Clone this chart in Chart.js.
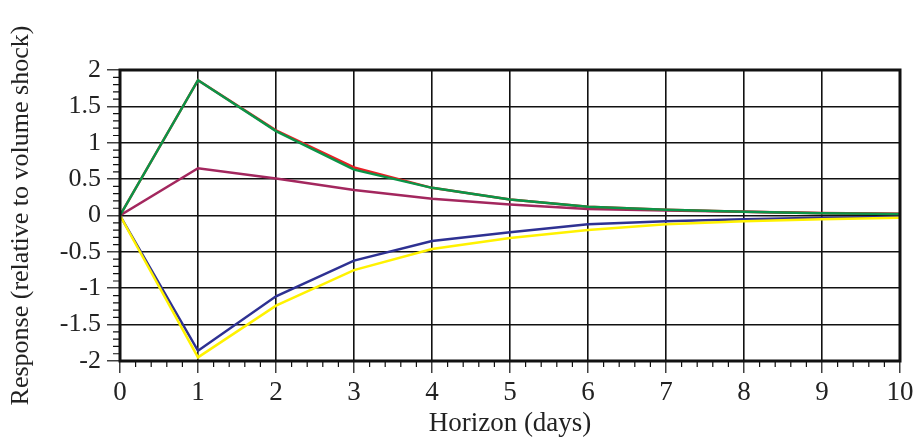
<!DOCTYPE html>
<html>
<head>
<meta charset="utf-8">
<script src="https://cdn.jsdelivr.net/npm/chart.js@4"></script>
<style>
  html, body { margin: 0; padding: 0; background: #fff; }
  #wrap { width: 924px; height: 443px; }
</style>
</head>
<body>
<div id="wrap"><canvas id="chart" width="924" height="443"></canvas></div>
<script>
// horizon in days
const horizon = [0, 1, 2, 3, 4, 5, 6, 7, 8, 9, 10];

// impulse responses
const greenResp  = [0, 1.86, 1.16, 0.63, 0.38, 0.22, 0.12, 0.08, 0.05, 0.03, 0.02];
const redResp    = [0, 1.86, 1.17, 0.66, 0.38, 0.22, 0.12, 0.08, 0.05, 0.035, 0.025];
const maroonResp = [0, 0.65, 0.51, 0.35, 0.23, 0.15, 0.09, 0.07, 0.05, 0.03, 0.02];
const blueResp   = [0, -1.86, -1.11, -0.62, -0.35, -0.23, -0.12, -0.08, -0.05, -0.03, -0.02];
const yellowResp = [0, -1.95, -1.24, -0.75, -0.46, -0.31, -0.2, -0.12, -0.08, -0.05, -0.03];

const yTicks = [-2, -1.5, -1, -0.5, 0, 0.5, 1, 1.5, 2];

const serif = "'Liberation Serif', 'DejaVu Serif', serif";

function pts(vals) {
  return horizon.map((h, i) => ({ x: h, y: vals[i] }));
}

function line(data, color, order) {
  return {
    data: pts(data),
    borderColor: color,
    backgroundColor: color,
    borderWidth: 2.5,
    pointRadius: 0,
    tension: 0,
    order: order
  };
}

// short minor ticks plus a heavy frame around the plot
const frame = {
  id: "frame",
  afterDraw(chart) {
    const ctx = chart.ctx;
    const a = chart.chartArea;
    const xs = chart.scales.x, ys = chart.scales.y;
    ctx.save();
    ctx.strokeStyle = "#111";
    ctx.lineWidth = 1.2;
    ctx.beginPath();
    for (let k = -20; k <= 20; k++) {
      if (k % 5 === 0) continue;
      const py = ys.getPixelForValue(k / 10);
      ctx.moveTo(a.left - 7, py);
      ctx.lineTo(a.left, py);
    }
    for (let k = 0; k <= 50; k++) {
      if (k % 5 === 0) continue;
      const px = xs.getPixelForValue(k / 5);
      ctx.moveTo(px, a.bottom);
      ctx.lineTo(px, a.bottom + 6);
    }
    ctx.stroke();
    ctx.lineWidth = 3;
    ctx.strokeRect(a.left, a.top, a.right - a.left, a.bottom - a.top);
    ctx.restore();
  }
};

new Chart(document.getElementById("chart"), {
  type: "line",
  data: {
    datasets: [
      line(greenResp, "#0b9447", 0),
      line(redResp, "#ea1f25", 1),
      line(maroonResp, "#a3275e", 2),
      line(yellowResp, "#fff200", 3),
      line(blueResp, "#2e3192", 4)
    ]
  },
  options: {
    responsive: false,
    animation: false,
    layout: { padding: { top: 70, right: 24, left: 0, bottom: 0 } },
    plugins: { legend: { display: false }, tooltip: { enabled: false } },
    scales: {
      x: {
        type: "linear",
        min: 0,
        max: 10,
        afterFit(s) { s.height = 82; },
        grid: { color: "#111", lineWidth: 1.6, tickLength: 12, tickColor: "#111", tickWidth: 1.2 },
        border: { display: false },
        ticks: {
          stepSize: 1,
          padding: 4,
          color: "#222",
          font: { family: serif, size: 27 },
          maxRotation: 0
        },
        title: {
          display: true,
          text: "Horizon (days)",
          color: "#222",
          font: { family: serif, size: 27 },
          padding: { top: 0, bottom: 3 }
        }
      },
      y: {
        min: -2,
        max: 2,
        afterFit(s) { s.width = 120; },
        afterBuildTicks(s) { s.ticks = yTicks.map(v => ({ value: v })); },
        grid: { color: "#111", lineWidth: 1.6, tickLength: 13, tickColor: "#111", tickWidth: 1.2 },
        border: { display: false },
        ticks: {
          padding: 6,
          color: "#222",
          font: { family: serif, size: 26 },
          callback: v => String(v)
        },
        title: {
          display: true,
          text: "Response (relative to volume shock)",
          color: "#222",
          font: { family: serif, size: 26 },
          padding: { top: 6, bottom: 0 }
        }
      }
    }
  },
  plugins: [frame]
});
</script>
</body>
</html>
